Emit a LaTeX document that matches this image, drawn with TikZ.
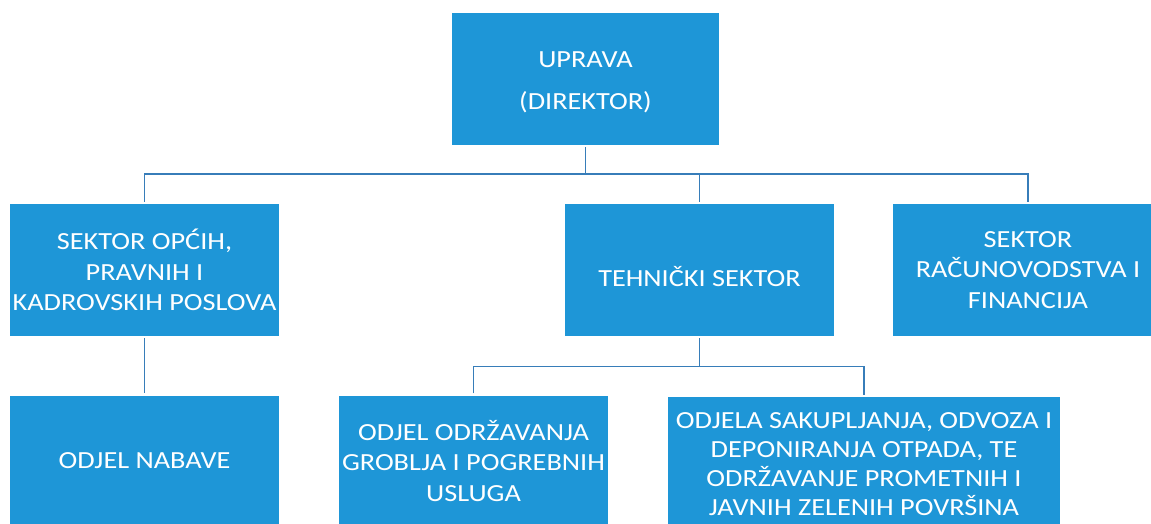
\documentclass[tikz,border=0pt]{standalone}
\usepackage{fontspec}
\setmainfont{Carlito}[FakeStretch=1.15]
\definecolor{boxblue}{RGB}{30,150,215}
\definecolor{linkblue}{RGB}{55,125,185}
\begin{document}
\begin{tikzpicture}[x=1pt,y=-1pt,
  unit/.style={fill=boxblue,text=white,align=center,inner sep=0pt,
    font=\fontsize{24.6}{30.5}\selectfont},
  link/.style={draw=linkblue,line width=1.9pt,shorten <=2pt,shorten >=2pt}]
\useasboundingbox (0,0) rectangle (1151,524);
\node[unit,minimum width=267pt,minimum height=132pt] (top) at (585.5,79) {\rule{0pt}{22pt}UPRAVA\\[12pt](DIREKTOR)};
\node[unit,minimum width=269pt,minimum height=132pt] (left) at (144.5,270) {SEKTOR OPĆIH,\\PRAVNIH I\\KADROVSKIH POSLOVA};
\node[unit,minimum width=269pt,minimum height=132pt,text height=32pt,text depth=0pt] (tech) at (699.5,270) {TEHNIČKI SEKTOR};
\node[unit,minimum width=270pt,minimum height=132pt] (right) at (1028,270) {SEKTOR\\RAČUNOVODSTVA I\\FINANCIJA};
\node[unit,minimum width=269pt,minimum height=130pt] (nab) at (144.5,460.5) {ODJEL NABAVE};
\node[unit,minimum width=269pt,minimum height=131pt] (odr) at (473.5,461) {ODJEL ODRŽAVANJA\\GROBLJA I POGREBNIH\\USLUGA};
\node[unit,minimum width=392pt,minimum height=134pt,font=\fontsize{24.6}{29}\selectfont] (sak) at (864,464) {ODJELA SAKUPLJANJA, ODVOZA I\\DEPONIRANJA OTPADA, TE\\ODRŽAVANJE PROMETNIH I\\JAVNIH ZELENIH POVRŠINA};
\coordinate (bus1) at (0,174);
\coordinate (bus2) at (0,366.5);
\draw[link,shorten >=0pt] (top.south) -- (top.south |- bus1);
\draw[link] (left.north) -- (left.north |- bus1) -- (right.north |- bus1) -- (right.north);
\draw[link,shorten <=0pt] (tech.north |- bus1) -- (tech.north);
\draw[link] (left.south) -- (nab.north);
\draw[link,shorten >=0pt] (tech.south) -- (tech.south |- bus2);
\draw[link] (odr.north) -- (odr.north |- bus2) -- (sak.north |- bus2) -- (sak.north);
\end{tikzpicture}
\end{document}
